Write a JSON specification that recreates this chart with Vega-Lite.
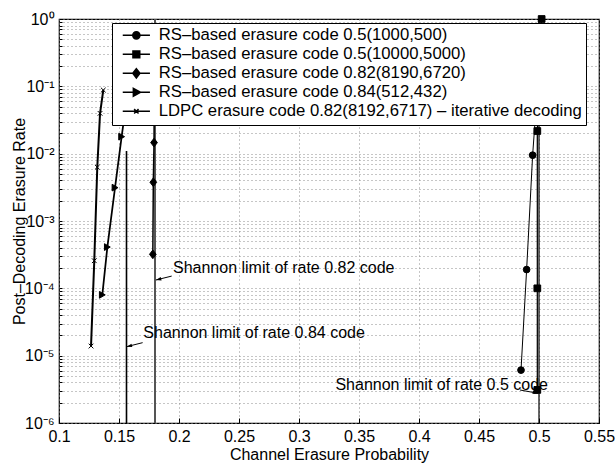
{
  "$schema": "https://vega.github.io/schema/vega-lite/v6.json",
  "width": 540,
  "height": 404,
  "autosize": {"type": "none"},
  "padding": {"left": 59, "top": 19, "right": 17, "bottom": 41},
  "config": {
    "font": "Liberation Sans",
    "view": {"stroke": "black", "strokeWidth": 1.2},
    "axis": {
      "labelFont": "Liberation Sans",
      "labelFontSize": 16,
      "labelColor": "black",
      "titleFont": "Liberation Sans",
      "titleFontSize": 16,
      "titleFontWeight": "normal",
      "titleColor": "black",
      "domain": false,
      "grid": true,
      "gridColor": "#8c8c8c",
      "gridDash": [1, 3],
      "gridWidth": 1,
      "tickColor": "black",
      "tickSize": -5,
      "labelFlush": false,
      "labelOverlap": false,
      "labelBound": false
    },
    "legend": {
      "orient": "none",
      "legendX": 53,
      "legendY": 4,
      "fillColor": "white",
      "strokeColor": "black",
      "strokeWidth": 1,
      "padding": 4,
      "rowPadding": 1,
      "labelFont": "Liberation Sans",
      "labelFontSize": 16.7,
      "labelColor": "black",
      "labelLimit": 600,
      "symbolSize": 64,
      "symbolOffset": 12,
      "labelOffset": 14
    }
  },
  "datasets": {
    "curves": [
      {"series": "RS–based erasure code 0.5(1000,500)", "x": 0.485, "y": 0.0000061},
      {"series": "RS–based erasure code 0.5(1000,500)", "x": 0.4897, "y": 0.00019},
      {"series": "RS–based erasure code 0.5(1000,500)", "x": 0.4947, "y": 0.0095},
      {"series": "RS–based erasure code 0.5(1000,500)", "x": 0.5, "y": 0.2},
      {"series": "RS–based erasure code 0.5(10000,5000)", "x": 0.4986, "y": 0.0000031},
      {"series": "RS–based erasure code 0.5(10000,5000)", "x": 0.4986, "y": 0.0001},
      {"series": "RS–based erasure code 0.5(10000,5000)", "x": 0.4986, "y": 0.0217},
      {"series": "RS–based erasure code 0.5(10000,5000)", "x": 0.5022, "y": 1.0},
      {"series": "RS–based erasure code 0.82(8190,6720)", "x": 0.1782, "y": 0.00032},
      {"series": "RS–based erasure code 0.82(8190,6720)", "x": 0.1786, "y": 0.00376},
      {"series": "RS–based erasure code 0.82(8190,6720)", "x": 0.1792, "y": 0.0146},
      {"series": "RS–based erasure code 0.82(8190,6720)", "x": 0.1795, "y": 0.3},
      {"series": "RS–based erasure code 0.84(512,432)", "x": 0.1361, "y": 0.00008},
      {"series": "RS–based erasure code 0.84(512,432)", "x": 0.1403, "y": 0.00041},
      {"series": "RS–based erasure code 0.84(512,432)", "x": 0.1467, "y": 0.00313},
      {"series": "RS–based erasure code 0.84(512,432)", "x": 0.1522, "y": 0.0179},
      {"series": "RS–based erasure code 0.84(512,432)", "x": 0.1585, "y": 0.12},
      {"series": "LDPC erasure code 0.82(8192,6717) – iterative decoding", "x": 0.1267, "y": 0.0000139},
      {"series": "LDPC erasure code 0.82(8192,6717) – iterative decoding", "x": 0.1294, "y": 0.000257},
      {"series": "LDPC erasure code 0.82(8192,6717) – iterative decoding", "x": 0.1319, "y": 0.0063},
      {"series": "LDPC erasure code 0.82(8192,6717) – iterative decoding", "x": 0.1342, "y": 0.0397},
      {"series": "LDPC erasure code 0.82(8192,6717) – iterative decoding", "x": 0.1369, "y": 0.088}
    ],
    "limits": [
      {"name": "0.82", "x": 0.18, "y": 0.000001, "y2": 1},
      {"name": "0.84", "x": 0.15625, "y": 0.000001, "y2": 0.011},
      {"name": "0.5", "x": 0.5, "y": 0.000001, "y2": 1}
    ],
    "notes": [
      {"text": "Shannon limit of rate 0.82 code", "side": "left", "x": 0.195, "y": 0.0002},
      {"text": "Shannon limit of rate 0.84 code", "side": "left", "x": 0.1703, "y": 0.0000219},
      {"text": "Shannon limit of rate 0.5 code", "side": "right", "x": 0.5075, "y": 0.00000366}
    ],
    "arrows": [
      {"dir": "left", "x": 0.1939, "y": 0.000152, "x2": 0.1808, "y2": 0.000133},
      {"dir": "left", "x": 0.1697, "y": 0.0000156, "x2": 0.1564, "y2": 0.0000136},
      {"dir": "right", "x": 0.4842, "y": 0.00000309, "x2": 0.4992, "y2": 0.00000276}
    ]
  },
  "resolve": {"scale": {"shape": "independent"}},
  "layer": [
    {
      "data": {"name": "limits"},
      "mark": {"type": "rule"},
      "encoding": {
        "x": {
          "field": "x", "type": "quantitative",
          "scale": {"domain": [0.1, 0.55], "nice": false, "zero": false},
          "axis": {
            "title": "Channel Erasure Probability",
            "values": [0.1, 0.15, 0.2, 0.25, 0.3, 0.35, 0.4, 0.45, 0.5, 0.55],
            "format": ".2~f",
            "labelPadding": 10,
            "titlePadding": 2
          }
        },
        "y": {
          "field": "y", "type": "quantitative",
          "scale": {"type": "log", "domain": [0.000001, 1], "nice": false},
          "axis": {
            "title": "Post–Decoding Erasure Rate",
            "values": [0.000001, 0.000002, 0.000003, 0.000004, 0.000005, 0.000006, 0.000007, 0.000008, 0.000009,
                       0.00001, 0.00002, 0.00003, 0.00004, 0.00005, 0.00006, 0.00007, 0.00008, 0.00009,
                       0.0001, 0.0002, 0.0003, 0.0004, 0.0005, 0.0006, 0.0007, 0.0008, 0.0009,
                       0.001, 0.002, 0.003, 0.004, 0.005, 0.006, 0.007, 0.008, 0.009,
                       0.01, 0.02, 0.03, 0.04, 0.05, 0.06, 0.07, 0.08, 0.09,
                       0.1, 0.2, 0.3, 0.4, 0.5, 0.6, 0.7, 0.8, 0.9, 1],
            "labelExpr": "datum.value == 1 ? '10⁰' : datum.value == 0.1 ? '10⁻¹' : datum.value == 0.01 ? '10⁻²' : datum.value == 0.001 ? '10⁻³' : datum.value == 0.0001 ? '10⁻⁴' : datum.value == 0.00001 ? '10⁻⁵' : datum.value == 0.000001 ? '10⁻⁶' : ''",
            "labelPadding": 8,
            "titleX": -40,
            "titleBaseline": "middle",
            "tickSize": -3
          }
        },
        "y2": {"field": "y2"},
        "size": {
          "field": "name", "type": "nominal",
          "scale": {"domain": ["0.82", "0.84", "0.5"], "range": [2, 1.2, 1.5]},
          "legend": null
        },
        "stroke": {
          "field": "name", "type": "nominal",
          "scale": {"domain": ["0.82", "0.84", "0.5"], "range": ["#555555", "black", "black"]},
          "legend": null
        }
      }
    },
    {
      "data": {"name": "curves"},
      "mark": {"type": "line", "color": "black"},
      "encoding": {
        "x": {"field": "x", "type": "quantitative"},
        "y": {"field": "y", "type": "quantitative"},
        "detail": {"field": "series"},
        "order": {"field": "y", "type": "quantitative"},
        "strokeWidth": {
          "field": "series", "type": "nominal",
          "scale": {
            "domain": ["RS–based erasure code 0.5(1000,500)", "RS–based erasure code 0.5(10000,5000)", "RS–based erasure code 0.82(8190,6720)", "RS–based erasure code 0.84(512,432)", "LDPC erasure code 0.82(8192,6717) – iterative decoding"],
            "range": [1, 2, 1.6, 1, 1]
          },
          "legend": null
        }
      }
    },
    {
      "data": {"name": "curves"},
      "mark": {"type": "point", "filled": true, "fill": "black", "stroke": "black", "strokeWidth": 1, "opacity": 1, "size": 45},
      "encoding": {
        "x": {"field": "x", "type": "quantitative"},
        "y": {"field": "y", "type": "quantitative"},
        "shape": {
          "field": "series", "type": "nominal",
          "scale": {
            "domain": ["RS–based erasure code 0.5(1000,500)", "RS–based erasure code 0.5(10000,5000)", "RS–based erasure code 0.82(8190,6720)", "RS–based erasure code 0.84(512,432)", "LDPC erasure code 0.82(8192,6717) – iterative decoding"],
            "range": ["circle", "square", "M0,-1.3L1,0L0,1.3L-1,0Z", "triangle-right", "M-0.7,-0.7L0.7,0.7M-0.7,0.7L0.7,-0.7"]
          },
          "legend": null
        }
      }
    },
    {
      "data": {"name": "curves"},
      "mark": {"type": "point", "filled": true, "fill": "black", "stroke": "black", "strokeWidth": 1, "opacity": 0},
      "encoding": {
        "x": {"field": "x", "type": "quantitative"},
        "y": {"field": "y", "type": "quantitative"},
        "shape": {
          "field": "series", "type": "nominal",
          "scale": {
            "domain": ["RS–based erasure code 0.5(1000,500)", "RS–based erasure code 0.5(10000,5000)", "RS–based erasure code 0.82(8190,6720)", "RS–based erasure code 0.84(512,432)", "LDPC erasure code 0.82(8192,6717) – iterative decoding"],
            "range": [
              "M-3.4,0H3.4M0.9,0A0.9,0.9,0,1,1,-0.9,0A0.9,0.9,0,1,1,0.9,0Z",
              "M-3.4,0H3.4M-0.85,-0.85H0.85V0.85H-0.85Z",
              "M-3.4,0H3.4M0,-1.15L0.9,0L0,1.15L-0.9,0Z",
              "M-3.4,0H3.4M-0.75,-1L1.05,0L-0.75,1Z",
              "M-3.4,0H3.4M-0.55,-0.55L0.55,0.55M-0.55,0.55L0.55,-0.55"
            ]
          },
          "legend": {
            "title": null,
            "encode": {
              "symbols": {
                "fill": {"value": "black"},
                "stroke": {"value": "black"},
                "strokeWidth": {"value": 1},
                "opacity": {"value": 1},
                "fillOpacity": {"value": 1},
                "strokeOpacity": {"value": 1}
              }
            }
          }
        }
      }
    },
    {
      "data": {"name": "arrows"},
      "mark": {"type": "rule", "color": "black", "strokeWidth": 1},
      "encoding": {
        "x": {"field": "x", "type": "quantitative"},
        "y": {"field": "y", "type": "quantitative"},
        "x2": {"field": "x2"},
        "y2": {"field": "y2"}
      }
    },
    {
      "data": {"name": "arrows"},
      "transform": [{"filter": "datum.dir == 'left'"}],
      "mark": {"type": "point", "shape": "M0,0L-0.55,1.7L0.55,1.7Z", "size": 40, "angle": 256, "filled": true, "color": "black", "opacity": 1},
      "encoding": {
        "x": {"field": "x2", "type": "quantitative"},
        "y": {"field": "y2", "type": "quantitative"}
      }
    },
    {
      "data": {"name": "arrows"},
      "transform": [{"filter": "datum.dir == 'right'"}],
      "mark": {"type": "point", "shape": "M0,0L-0.55,1.7L0.55,1.7Z", "size": 40, "angle": 100, "filled": true, "color": "black", "opacity": 1},
      "encoding": {
        "x": {"field": "x2", "type": "quantitative"},
        "y": {"field": "y2", "type": "quantitative"}
      }
    },
    {
      "data": {"name": "notes"},
      "transform": [{"filter": "datum.side == 'left'"}],
      "mark": {"type": "text", "align": "left", "baseline": "middle", "fontSize": 16, "font": "Liberation Sans", "color": "black"},
      "encoding": {
        "x": {"field": "x", "type": "quantitative"},
        "y": {"field": "y", "type": "quantitative"},
        "text": {"field": "text"}
      }
    },
    {
      "data": {"name": "notes"},
      "transform": [{"filter": "datum.side == 'right'"}],
      "mark": {"type": "text", "align": "right", "baseline": "middle", "fontSize": 16, "font": "Liberation Sans", "color": "black"},
      "encoding": {
        "x": {"field": "x", "type": "quantitative"},
        "y": {"field": "y", "type": "quantitative"},
        "text": {"field": "text"}
      }
    }
  ]
}
